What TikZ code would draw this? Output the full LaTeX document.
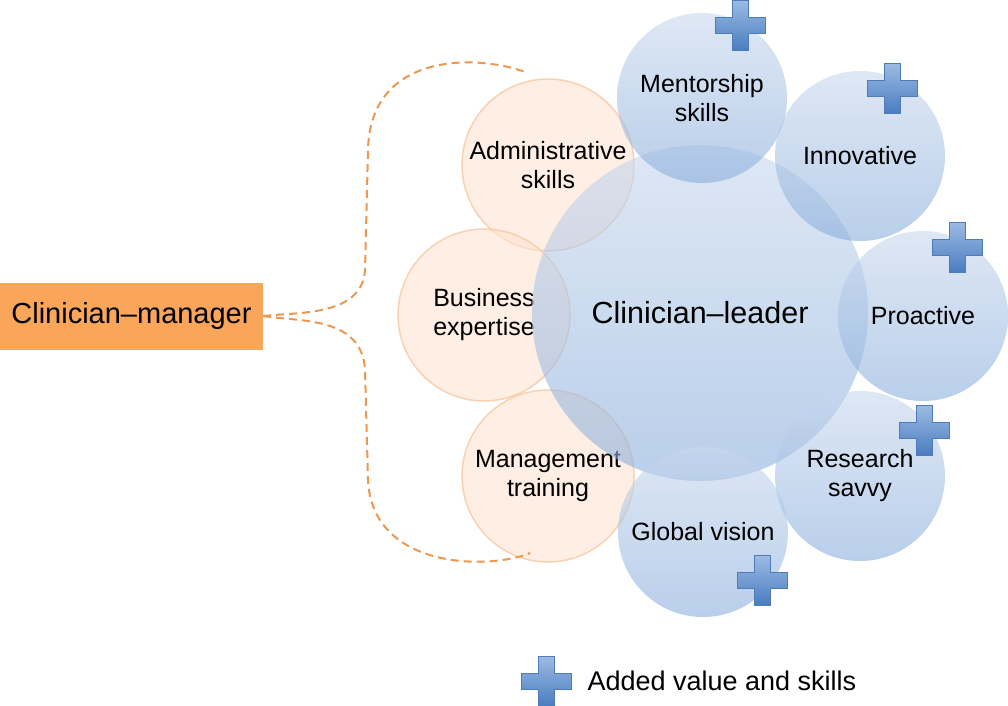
\documentclass[tikz,border=0pt]{standalone}
\usepackage{fontspec}
\setmainfont{Liberation Sans}
\begin{document}
\begin{tikzpicture}[x=1pt,y=-1pt,
  bluec/.style={circle,minimum size=#1,inner sep=0pt,draw=none,top color=blueT,bottom color=blueB,fill opacity=0.6,text opacity=1,align=center,font=\fontsize{25}{29}\selectfont},
  orc/.style={circle,minimum size=172pt,inner sep=0pt,draw=orD,line width=1.5pt,fill=orF,fill opacity=0.6,draw opacity=0.8,text opacity=1,align=center,font=\fontsize{25}{29}\selectfont},
  plusx/.pic={\draw[draw=plusD,line width=1pt,top color=plusT,bottom color=plusB]
     (-8,-25)--(8,-25)--(8,-8)--(25,-8)--(25,8)--(8,8)--(8,25)--(-8,25)--(-8,8)--(-25,8)--(-25,-8)--(-8,-8)--cycle;},
  dashc/.style={draw=orL,line width=2pt,dash pattern=on 8pt off 5pt}]
\definecolor{blueT}{HTML}{C8D8EE}
\definecolor{blueB}{HTML}{8AAEDC}
\definecolor{orF}{HTML}{FDE3D0}
\definecolor{orD}{HTML}{F8C9A4}
\definecolor{orL}{HTML}{EE9750}
\definecolor{plusT}{HTML}{9CBBE4}
\definecolor{plusB}{HTML}{4A7DC0}
\definecolor{plusD}{HTML}{4F7CB8}
\definecolor{boxO}{HTML}{F9A65A}
\useasboundingbox (0,0) rectangle (1008,705);
\node[orc] (adm) at (548,165) {Administrative\\skills};
\node[orc] (bus) at (484,315) {Business\\expertise};
\node[orc] (man) at (548,476) {Management\\training};
\node[bluec=336pt,font=\fontsize{30.5}{35}\selectfont] (lead) at (700,313) {Clinician--leader};
\node[bluec=170pt] (men) at (702,98) {Mentorship\\skills};
\node[bluec=170pt] (inn) at (860,156) {Innovative};
\node[bluec=170pt] (pro) at (923,316) {Proactive};
\node[bluec=170pt] (res) at (860,476) {Research\\savvy};
\node[bluec=170pt] (glo) at (703,532) {Global vision};
\pic at (740,25) {plusx};
\pic at (892,88) {plusx};
\pic at (957,247) {plusx};
\pic at (924,430) {plusx};
\pic at (762,580) {plusx};
\pic at (546,681) {plusx};
\node[anchor=west,font=\fontsize{27}{32}\selectfont] (leg) at (584,681) {Added value and skills};
\node[fill=boxO,minimum width=263pt,minimum height=67pt,inner sep=0pt,font=\fontsize{29}{34}\selectfont] (cm) at (131.5,316) {Clinician--manager};
\coordinate (top) at (525,72);
\coordinate (bot) at (530,553);
\draw[dashc] (cm.east) .. controls (300,312) and (362,316) .. (365,270)
  -- (368,150) .. controls (370,50) and (480,55) .. (top);
\draw[dashc] (cm.east) .. controls (300,322) and (362,316) .. (365,370)
  -- (368,480) .. controls (372,570) and (490,570) .. (bot);
\end{tikzpicture}
\end{document}
